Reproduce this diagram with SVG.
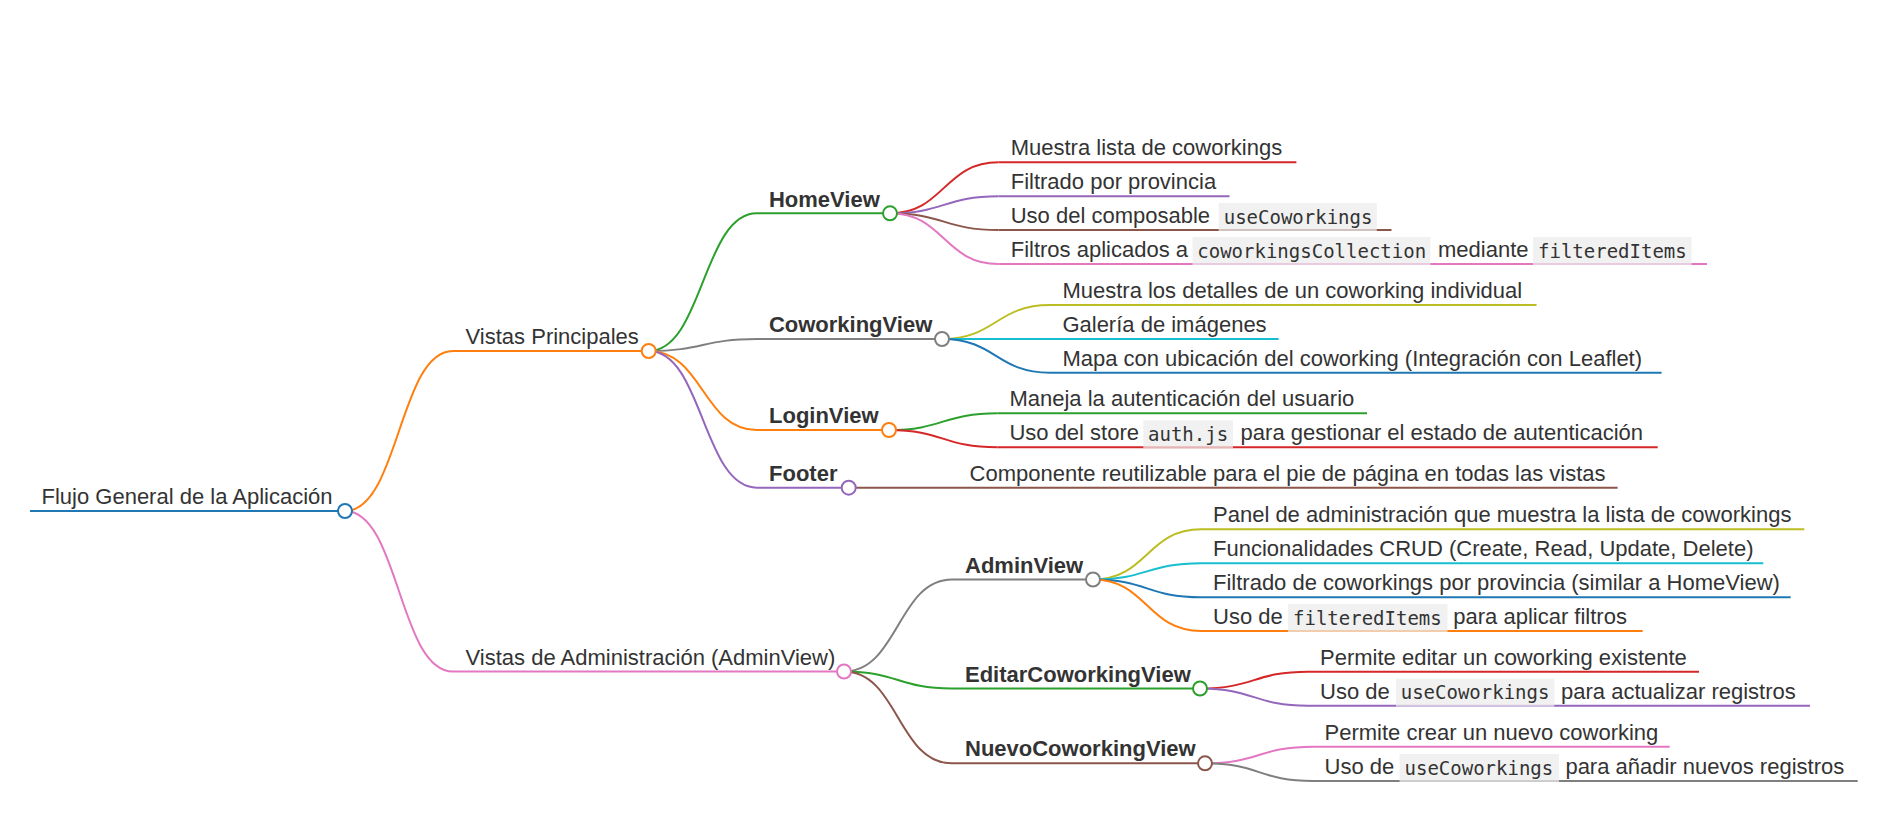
<svg xmlns="http://www.w3.org/2000/svg" width="1878" height="839" viewBox="0 0 1878 839">
<style>
.t{font-family:"Liberation Sans",Arial,sans-serif;font-size:22px;fill:#333}
.b{font-weight:bold}
.code{font-family:"DejaVu Sans Mono","Liberation Mono",monospace;font-size:19px;fill:#333}
.cb{fill:#ebebeb;fill-opacity:0.72}
.ln{fill:none;stroke-width:2}
.lk{fill:none;stroke-width:2}
.dot{fill:#fff;stroke-width:2}
</style>
<rect width="1878" height="839" fill="#fff"/>
<g id="connectors">
<path class="lk" stroke="#ff7f0e" stroke-width="2.5" d="M345,511 C399,511 399,351 453,351"/>
<path class="lk" stroke="#e377c2" stroke-width="2.5" d="M345,511 C399,511 399,671.5 453,671.5"/>
<path class="lk" stroke="#2ca02c" d="M648.7,351 C702.8,351 702.8,213.3 757,213.3"/>
<path class="lk" stroke="#7f7f7f" d="M648.7,351 C702.8,351 702.8,339 757,339"/>
<path class="lk" stroke="#ff7f0e" d="M648.7,351 C702.8,351 702.8,430 757,430"/>
<path class="lk" stroke="#9467bd" d="M648.7,351 C702.8,351 702.8,487.7 757,487.7"/>
<path class="lk" stroke="#7f7f7f" d="M844,671.5 C898,671.5 898,579.5 952,579.5"/>
<path class="lk" stroke="#2ca02c" d="M844,671.5 C898,671.5 898,688.5 952,688.5"/>
<path class="lk" stroke="#8c564b" d="M844,671.5 C898,671.5 898,763.3 952,763.3"/>
<path class="lk" stroke="#d62728" d="M890,213.3 C944,213.3 944,162.3 998.5,162.3"/>
<path class="lk" stroke="#9467bd" d="M890,213.3 C944,213.3 944,196.3 998.5,196.3"/>
<path class="lk" stroke="#8c564b" d="M890,213.3 C944,213.3 944,230 998.5,230"/>
<path class="lk" stroke="#e377c2" d="M890,213.3 C944,213.3 944,264 998.5,264"/>
<path class="lk" stroke="#bcbd22" d="M942,339 C996,339 996,305 1050,305"/>
<path class="lk" stroke="#17becf" d="M942,339 L1050,339"/>
<path class="lk" stroke="#1f77b4" d="M942,339 C996,339 996,372.7 1050,372.7"/>
<path class="lk" stroke="#2ca02c" d="M889,430 C943,430 943,413.3 997.3,413.3"/>
<path class="lk" stroke="#d62728" d="M889,430 C943,430 943,447.3 997.3,447.3"/>
<path class="lk" stroke="#8c564b" d="M848.7,487.7 L956,487.7"/>
<path class="lk" stroke="#bcbd22" d="M1093,579.5 C1147,579.5 1147,529.3 1201,529.3"/>
<path class="lk" stroke="#17becf" d="M1093,579.5 C1147,579.5 1147,563.3 1201,563.3"/>
<path class="lk" stroke="#1f77b4" d="M1093,579.5 C1147,579.5 1147,597.3 1201,597.3"/>
<path class="lk" stroke="#ff7f0e" d="M1093,579.5 C1147,579.5 1147,631 1201,631"/>
<path class="lk" stroke="#d62728" d="M1200,688.5 C1254,688.5 1254,671.7 1308,671.7"/>
<path class="lk" stroke="#9467bd" d="M1200,688.5 C1254,688.5 1254,705.7 1308,705.7"/>
<path class="lk" stroke="#e377c2" d="M1205,763.3 C1259,763.3 1259,746.7 1313,746.7"/>
<path class="lk" stroke="#7f7f7f" d="M1205,763.3 C1259,763.3 1259,781 1313,781"/>
</g>
<g id="root">
<line class="ln" stroke="#1f77b4" stroke-width="3" x1="30" y1="511" x2="345" y2="511"/>
<text class="t" x="41.5" y="504">Flujo General de la Aplicación</text>
<circle class="dot" stroke="#1f77b4" cx="345" cy="511" r="7"/>
</g>
<g id="vistas-principales">
<line class="ln" stroke="#ff7f0e" stroke-width="2.5" x1="453" y1="351" x2="648.7" y2="351"/>
<text class="t" x="465.6" y="344">Vistas Principales</text>
<circle class="dot" stroke="#ff7f0e" cx="648.7" cy="351" r="7"/>
</g>
<g id="vistas-admin">
<line class="ln" stroke="#e377c2" stroke-width="2.5" x1="453" y1="671.5" x2="844" y2="671.5"/>
<text class="t" x="465.6" y="664.5">Vistas de Administración (AdminView)</text>
<circle class="dot" stroke="#e377c2" cx="844" cy="671.5" r="7"/>
</g>
<g id="homeview">
<line class="ln" stroke="#2ca02c" x1="757" y1="213.3" x2="890" y2="213.3"/>
<text class="t b" x="768.9" y="206.5">HomeView</text>
<circle class="dot" stroke="#2ca02c" cx="890" cy="213.3" r="7"/>
</g>
<g id="coworkingview">
<line class="ln" stroke="#7f7f7f" x1="757" y1="339" x2="942" y2="339"/>
<text class="t b" x="768.9" y="332">CoworkingView</text>
<circle class="dot" stroke="#7f7f7f" cx="942" cy="339" r="7"/>
</g>
<g id="loginview">
<line class="ln" stroke="#ff7f0e" x1="757" y1="430" x2="889" y2="430"/>
<text class="t b" x="769" y="423">LoginView</text>
<circle class="dot" stroke="#ff7f0e" cx="889" cy="430" r="7"/>
</g>
<g id="footer">
<line class="ln" stroke="#9467bd" x1="757" y1="487.7" x2="848.7" y2="487.7"/>
<text class="t b" x="769" y="480.7">Footer</text>
<circle class="dot" stroke="#9467bd" cx="848.7" cy="487.7" r="7"/>
</g>
<g id="adminview">
<line class="ln" stroke="#7f7f7f" x1="952" y1="579.5" x2="1093" y2="579.5"/>
<text class="t b" x="965" y="572.5">AdminView</text>
<circle class="dot" stroke="#7f7f7f" cx="1093" cy="579.5" r="7"/>
</g>
<g id="editarcoworkingview">
<line class="ln" stroke="#2ca02c" x1="952" y1="688.5" x2="1200" y2="688.5"/>
<text class="t b" x="965" y="681.5">EditarCoworkingView</text>
<circle class="dot" stroke="#2ca02c" cx="1200" cy="688.5" r="7"/>
</g>
<g id="nuevocoworkingview">
<line class="ln" stroke="#8c564b" x1="952" y1="763.3" x2="1205" y2="763.3"/>
<text class="t b" x="965" y="756.3">NuevoCoworkingView</text>
<circle class="dot" stroke="#8c564b" cx="1205" cy="763.3" r="7"/>
</g>
<g id="home-1">
<line class="ln" stroke="#d62728" x1="998.5" y1="162.3" x2="1296.4" y2="162.3"/>
<text class="t" x="1010.7" y="155.3">Muestra lista de coworkings</text>
</g>
<g id="home-2">
<line class="ln" stroke="#9467bd" x1="998.5" y1="196.3" x2="1229.5" y2="196.3"/>
<text class="t" x="1010.7" y="189.3">Filtrado por provincia</text>
</g>
<g id="home-3">
<line class="ln" stroke="#8c564b" x1="998.5" y1="230" x2="1391.5" y2="230"/>
<rect class="cb" x="1218.6" y="203" width="158.2" height="28"/>
<text class="t" x="1010.7" y="223">Uso del composable</text>
<text class="code" x="1223.7" y="223.5">useCoworkings</text>
</g>
<g id="home-4">
<line class="ln" stroke="#e377c2" x1="998.5" y1="264" x2="1707" y2="264"/>
<rect class="cb" x="1192.5" y="237" width="237.9" height="28"/>
<rect class="cb" x="1533" y="237" width="158.5" height="28"/>
<text class="t" x="1010.7" y="257">Filtros aplicados a</text>
<text class="code" x="1197.3" y="257.5">coworkingsCollection</text>
<text class="t" x="1438" y="257">mediante</text>
<text class="code" x="1538" y="257.5">filteredItems</text>
</g>
<g id="cow-1">
<line class="ln" stroke="#bcbd22" x1="1050" y1="305" x2="1536.6" y2="305"/>
<text class="t" x="1062.4" y="298">Muestra los detalles de un coworking individual</text>
</g>
<g id="cow-2">
<line class="ln" stroke="#17becf" x1="1050" y1="339" x2="1278.6" y2="339"/>
<text class="t" x="1062.4" y="332">Galería de imágenes</text>
</g>
<g id="cow-3">
<line class="ln" stroke="#1f77b4" x1="1050" y1="372.7" x2="1661.6" y2="372.7"/>
<text class="t" x="1062.4" y="365.7">Mapa con ubicación del coworking (Integración con Leaflet)</text>
</g>
<g id="login-1">
<line class="ln" stroke="#2ca02c" x1="997.3" y1="413.3" x2="1367" y2="413.3"/>
<text class="t" x="1009.4" y="406.3">Maneja la autenticación del usuario</text>
</g>
<g id="login-2">
<line class="ln" stroke="#d62728" x1="997.3" y1="447.3" x2="1657.7" y2="447.3"/>
<rect class="cb" x="1143.3" y="420.3" width="89.7" height="28"/>
<text class="t" x="1009.4" y="440.3">Uso del store</text>
<text class="code" x="1148" y="440.8">auth.js</text>
<text class="t" x="1240.6" y="440.3">para gestionar el estado de autenticación</text>
</g>
<g id="footer-1">
<line class="ln" stroke="#8c564b" x1="956" y1="487.7" x2="1617.6" y2="487.7"/>
<text class="t" x="969.6" y="480.7">Componente reutilizable para el pie de página en todas las vistas</text>
</g>
<g id="admin-1">
<line class="ln" stroke="#bcbd22" x1="1201" y1="529.3" x2="1804.3" y2="529.3"/>
<text class="t" x="1213" y="522.3">Panel de administración que muestra la lista de coworkings</text>
</g>
<g id="admin-2">
<line class="ln" stroke="#17becf" x1="1201" y1="563.3" x2="1763.3" y2="563.3"/>
<text class="t" x="1213" y="556.3">Funcionalidades CRUD (Create, Read, Update, Delete)</text>
</g>
<g id="admin-3">
<line class="ln" stroke="#1f77b4" x1="1201" y1="597.3" x2="1790.7" y2="597.3"/>
<text class="t" x="1213" y="590.3">Filtrado de coworkings por provincia (similar a HomeView)</text>
</g>
<g id="admin-4">
<line class="ln" stroke="#ff7f0e" x1="1201" y1="631" x2="1642.7" y2="631"/>
<rect class="cb" x="1288" y="604" width="159.5" height="28"/>
<text class="t" x="1213" y="624">Uso de</text>
<text class="code" x="1293" y="624.5">filteredItems</text>
<text class="t" x="1453.3" y="624">para aplicar filtros</text>
</g>
<g id="editar-1">
<line class="ln" stroke="#d62728" x1="1308" y1="671.7" x2="1699" y2="671.7"/>
<text class="t" x="1320" y="664.7">Permite editar un coworking existente</text>
</g>
<g id="editar-2">
<line class="ln" stroke="#9467bd" x1="1308" y1="705.7" x2="1810" y2="705.7"/>
<rect class="cb" x="1396" y="678.7" width="158.3" height="28"/>
<text class="t" x="1320" y="698.7">Uso de</text>
<text class="code" x="1400.7" y="699.2">useCoworkings</text>
<text class="t" x="1561" y="698.7">para actualizar registros</text>
</g>
<g id="nuevo-1">
<line class="ln" stroke="#e377c2" x1="1313" y1="746.7" x2="1669.7" y2="746.7"/>
<text class="t" x="1324.5" y="739.7">Permite crear un nuevo coworking</text>
</g>
<g id="nuevo-2">
<line class="ln" stroke="#7f7f7f" x1="1313" y1="781" x2="1857.7" y2="781"/>
<rect class="cb" x="1399.5" y="754" width="159.5" height="28"/>
<text class="t" x="1324.5" y="774">Uso de</text>
<text class="code" x="1404.5" y="774.5">useCoworkings</text>
<text class="t" x="1565.4" y="774">para añadir nuevos registros</text>
</g>
</svg>
